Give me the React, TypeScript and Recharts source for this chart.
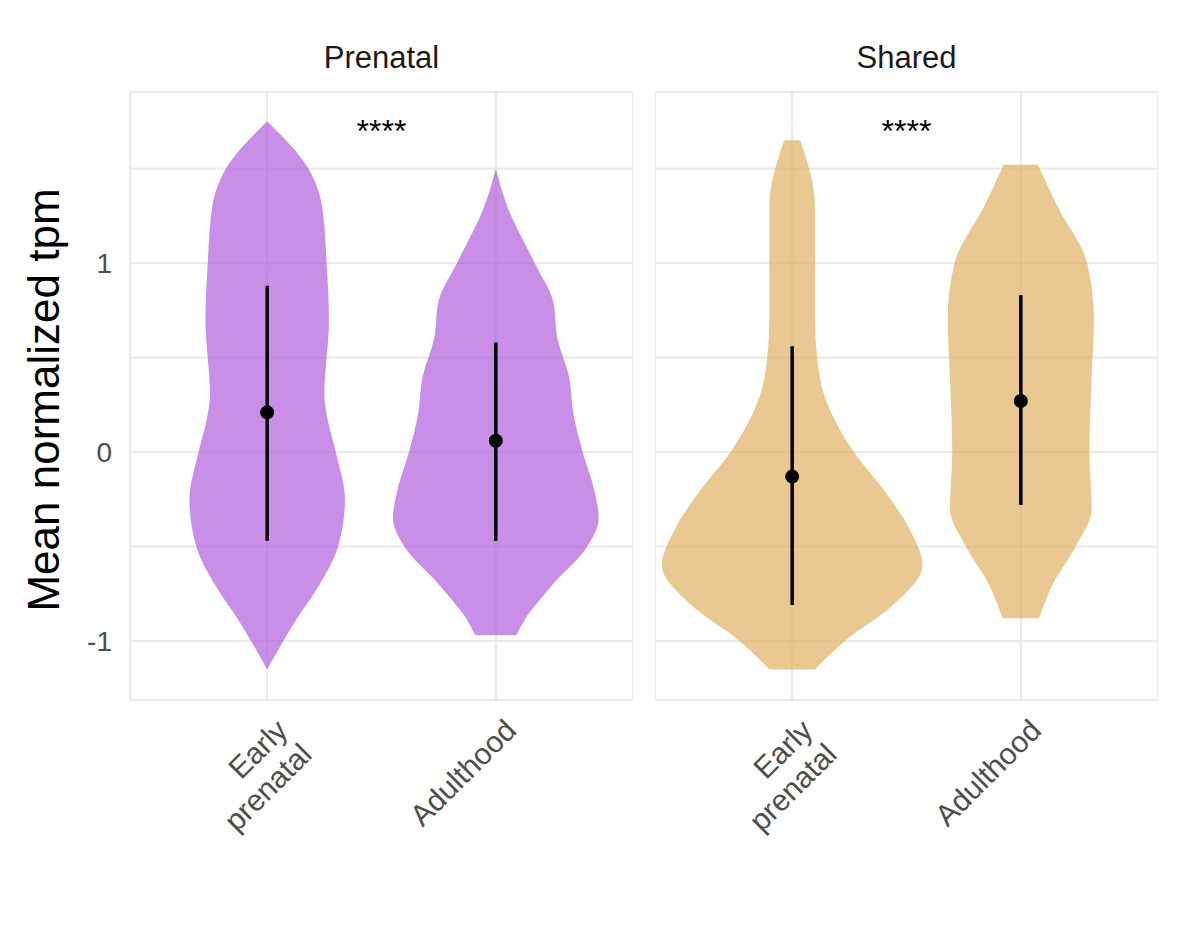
import React from 'react';
import { ComposedChart, Area, Line, XAxis, YAxis, CartesianGrid, ReferenceDot } from 'recharts';

const categories = ['Early\nprenatal', 'Adulthood'];
const facets = ['Prenatal', 'Shared'];

// violin profiles: y values and half-widths (x units)
const preEarlyY = [-1.15, -0.9, -0.7, -0.5, -0.25, 0, 0.2, 0.3, 0.7, 1.0, 1.3, 1.5, 1.75];
const preEarlyW = [0.0, 0.12, 0.23, 0.31, 0.34, 0.3, 0.26, 0.25, 0.27, 0.26, 0.24, 0.18, 0.0];
const preAdultY = [-0.97, -0.9, -0.7, -0.5, -0.35, -0.2, 0, 0.2, 0.4, 0.6, 0.8, 1.0, 1.3, 1.5];
const preAdultW = [0.09, 0.12, 0.25, 0.40, 0.45, 0.43, 0.38, 0.34, 0.32, 0.27, 0.25, 0.17, 0.05, 0.0];
const shEarlyY = [-1.15, -1.0, -0.8, -0.6, -0.4, -0.2, 0, 0.4, 0.7, 1.0, 1.3, 1.65];
const shEarlyW = [0.1, 0.23, 0.45, 0.57, 0.51, 0.40, 0.27, 0.12, 0.1, 0.1, 0.1, 0.035];
const shAdultY = [-0.88, -0.7, -0.5, -0.3, 0, 0.4, 0.7, 1.0, 1.3, 1.52];
const shAdultW = [0.08, 0.14, 0.24, 0.31, 0.30, 0.31, 0.32, 0.29, 0.16, 0.075];

// mean and interval
const preMeans = [0.21, 0.06];
const preLow = [-0.47, -0.47];
const preHigh = [0.88, 0.58];
const shMeans = [-0.13, 0.27];
const shLow = [-0.81, -0.28];
const shHigh = [0.56, 0.83];

const yTicks = [-1, -0.5, 0, 0.5, 1, 1.5];
const starY = 1.7;

type Row = { y: number; [k: string]: any };

function buildData(ys: number[][], ws: number[][], means: number[], lows: number[], highs: number[]) {
  const map = new Map<number, Row>();
  const get = (y: number) => {
    const k = Math.round(y * 1000) / 1000;
    if (!map.has(k)) map.set(k, { y: k });
    return map.get(k)!;
  };
  ys.forEach((arr, i) => {
    arr.forEach((y, j) => {
      get(y)['v' + i] = [i + 1 - ws[i][j], i + 1 + ws[i][j]];
    });
    get(lows[i])['b' + i] = i + 1;
    get(highs[i])['b' + i] = i + 1;
    get(means[i])['m' + i] = i + 1;
  });
  return Array.from(map.values()).sort((a, b) => a.y - b.y);
}

const preData = buildData([preEarlyY, preAdultY], [preEarlyW, preAdultW], preMeans, preLow, preHigh);
const shData = buildData([shEarlyY, shAdultY], [shEarlyW, shAdultW], shMeans, shLow, shHigh);

const FONT = '"Liberation Sans", Arial, sans-serif';

const XTick = (props: any) => {
  const { x, y, payload } = props;
  const label = categories[Math.round(payload.value) - 1] || '';
  const lines = label.split('\n');
  return (
    <g transform={`translate(${x + 6},${y + 2}) rotate(-45)`}>
      {lines.map((l, i) => (
        <text key={i} x={0} y={23 + i * 34}
          textAnchor="end" fontSize={30} fill="#4d4d4d" fontFamily={FONT}>{l}</text>
      ))}
    </g>
  );
};

function Panel({ data, color, left, width, showY }: any) {
  return (
    <div style={{ position: 'absolute', left, top: 0 }}>
      <ComposedChart layout="vertical" width={width} height={944} data={data}
        margin={{ top: 92, right: 0, left: 0, bottom: 44 }}>
        <CartesianGrid stroke="#ebebeb" strokeWidth={2.2} />
        <XAxis type="number" domain={[0.4, 2.6]} ticks={[1, 2]} axisLine={false} tickLine={false}
          height={200} tick={<XTick />} tickMargin={8} allowDataOverflow />
        <YAxis type="number" dataKey="y" domain={[-1.312, 1.905]} ticks={yTicks} allowDataOverflow reversed
          tickFormatter={(v: number) => (Number.isInteger(v) ? String(v) : '')}
          width={showY ? 130 : 0} hide={!showY} axisLine={false} tickLine={false} tickMargin={12}
          tick={{ fontSize: 28, fill: '#4d4d4d', fontFamily: FONT }} />
        {[0, 1].map(i => (
          <Area key={'v' + i} dataKey={'v' + i} type="monotone" fill={color} fillOpacity={0.7}
            stroke="none" connectNulls isAnimationActive={false} dot={false} activeDot={false} />
        ))}
        {[0, 1].map(i => (
          <Line key={'b' + i} dataKey={'b' + i} stroke="#000" strokeWidth={3.5} connectNulls dot={false}
            activeDot={false} isAnimationActive={false} />
        ))}
        {[0, 1].map(i => (
          <Line key={'m' + i} dataKey={'m' + i} stroke="none" connectNulls
            dot={{ r: 7, fill: '#000', stroke: 'none' }} activeDot={false} isAnimationActive={false} />
        ))}
        <ReferenceDot x={1.5} y={starY} r={0} stroke="none"
          label={{ value: '****', fontSize: 32, fill: '#000', fontFamily: FONT, position: 'center' }} />
      </ComposedChart>
    </div>
  );
}

export default function App() {
  return (
    <div style={{ position: 'absolute', left: 0, top: 0, width: 1181, height: 944, background: '#fff', fontFamily: FONT }}>
      <Panel data={preData} color="#b260de" left={0} width={633} showY />
      <Panel data={shData} color="#dfb064" left={655} width={503} showY={false} />
      <div style={{ position: 'absolute', left: 130, width: 503, top: 40, textAlign: 'center', fontSize: 31, color: '#1a1a1a' }}>{facets[0]}</div>
      <div style={{ position: 'absolute', left: 655, width: 503, top: 40, textAlign: 'center', fontSize: 31, color: '#1a1a1a' }}>{facets[1]}</div>
      <div style={{ position: 'absolute', left: 44, top: 400, transform: 'translate(-50%,-50%) rotate(-90deg)', whiteSpace: 'nowrap', fontSize: 44, color: '#000' }}>Mean normalized tpm</div>
    </div>
  );
}
